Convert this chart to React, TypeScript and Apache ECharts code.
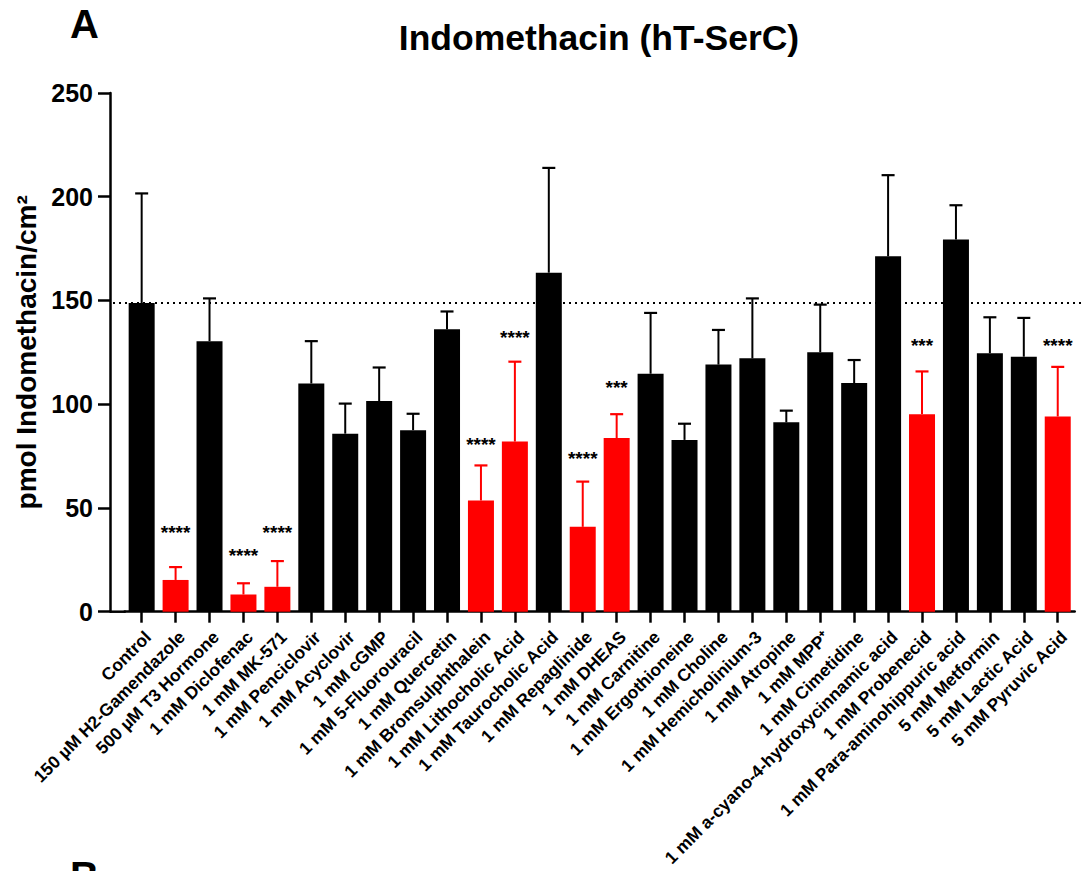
import React, { useEffect, useRef } from "react";
import * as echarts from "echarts";

const categories = [
  "Control",
  "150 µM H2-Gamendazole",
  "500 µM T3 Hormone",
  "1 mM Diclofenac",
  "1 mM MK-571",
  "1 mM Penciclovir",
  "1 mM Acyclovir",
  "1 mM cGMP",
  "1 mM 5-Fluorouracil",
  "1 mM Quercetin",
  "1 mM Bromsulphthalein",
  "1 mM Lithocholic Acid",
  "1 mM Taurocholic Acid",
  "1 mM Repaglinide",
  "1 mM DHEAS",
  "1 mM Carnitine",
  "1 mM Ergothioneine",
  "1 mM Choline",
  "1 mM Hemicholinium-3",
  "1 mM Atropine",
  "1 mM MPP⁺",
  "1 mM Cimetidine",
  "1 mM a-cyano-4-hydroxycinnamic acid",
  "1 mM Probenecid",
  "1 mM Para-aminohippuric acid",
  "5 mM Metformin",
  "5 mM Lactic Acid",
  "5 mM Pyruvic Acid",
];

const means = [
  148.8, 15.3, 130.4, 8.3, 12.0, 110.0, 85.8, 101.5, 87.5, 136.1, 53.6, 82.0,
  163.4, 40.9, 83.7, 114.7, 82.8, 119.1, 122.1, 91.3, 125.1, 110.2, 171.3, 95.2,
  179.4, 124.6, 122.9, 94.1,
];

const errorTops = [
  201.6, 21.5, 151.0, 13.7, 24.4, 130.4, 100.3, 117.7, 95.4, 144.7, 70.5, 120.5,
  213.9, 62.7, 95.2, 144.0, 90.6, 135.8, 151.0, 96.9, 148.0, 121.3, 210.4, 115.8,
  195.9, 141.9, 141.6, 118.0,
];

const significance = [
  "", "****", "", "****", "****", "", "", "", "", "", "****", "****", "", "****",
  "***", "", "", "", "", "", "", "", "", "***", "", "", "", "****",
];

const sigLevels: (number | null)[] = [
  null, 40, null, 29, 40, null, null, null, null, null, 82.5, 134, null, 76,
  110, null, null, null, null, null, null, null, null, 130, null, null, null, 130,
];

const yTicks = [0, 50, 100, 150, 200, 250];
const referenceValue = means[0];

const title = "Indomethacin (hT-SerC)";
const yName = "pmol Indomethacin/cm²";

const RED = "#ff0000";
const BLACK = "#000000";
const FONT = "'Liberation Sans', Arial, sans-serif";

export default function App() {
  const ref = useRef<HTMLDivElement>(null);

  useEffect(() => {
    if (!ref.current) return;
    const chart = echarts.init(ref.current, null, { renderer: "svg" });

    const gridTop = 93;
    const gridHeight = 518.7;
    const gridLeft = 124.7;
    const gridWidth = 950;
    const yAxisOffset = 14.7;

    const barData = means.map((v, i) => ({
      value: v,
      itemStyle: { color: significance[i] ? RED : BLACK },
    }));

    const errData = means.map((v, i) => [i, v, errorTops[i]]);
    const sigData: number[][] = [];
    sigLevels.forEach((lv, i) => {
      if (lv != null) sigData.push([i, lv]);
    });

    chart.setOption({
      animation: false,
      grid: {
        top: gridTop,
        height: gridHeight,
        left: gridLeft,
        width: gridWidth,
        containLabel: false,
        outerBoundsMode: "none",
      },
      xAxis: {
        type: "category",
        data: categories,
        boundaryGap: true,
        axisLine: { show: true, lineStyle: { color: BLACK, width: 2.5 } },
        axisTick: { show: true, alignWithLabel: true, length: 11, lineStyle: { color: BLACK, width: 2.5 } },
        axisLabel: {
          interval: 0,
          rotate: 45,
          margin: 16,
          verticalAlign: "top",
          color: BLACK,
          fontFamily: FONT,
          fontWeight: "bold",
          fontSize: 17.5,
          hideOverlap: false,
        },
        splitLine: { show: false },
      },
      yAxis: {
        type: "value",
        min: yTicks[0],
        max: yTicks[yTicks.length - 1],
        interval: yTicks[1] - yTicks[0],
        offset: yAxisOffset,
        name: yName,
        nameLocation: "middle",
        nameGap: 56,
        nameRotate: 90,
        nameTextStyle: { color: BLACK, fontFamily: FONT, fontWeight: "bold", fontSize: 28 },
        axisLine: { show: true, lineStyle: { color: BLACK, width: 2.5 } },
        axisTick: { show: true, length: 12, lineStyle: { color: BLACK, width: 2.5 } },
        axisLabel: { margin: 17, color: BLACK, fontFamily: FONT, fontWeight: "bold", fontSize: 25 },
        splitLine: { show: false },
      },
      series: [
        {
          type: "bar",
          data: barData,
          barWidth: 26,
          z: 2,
        },
        {
          type: "custom",
          data: errData,
          encode: { x: 0, y: [1, 2] },
          z: 3,
          renderItem: (params: any, api: any) => {
            const i = api.value(0);
            const p0 = api.coord([i, api.value(1)]);
            const p1 = api.coord([i, api.value(2)]);
            const color = significance[i] ? RED : BLACK;
            return {
              type: "group",
              children: [
                { type: "line", shape: { x1: p0[0], y1: p0[1], x2: p1[0], y2: p1[1] }, style: { stroke: color, lineWidth: 2 } },
                { type: "line", shape: { x1: p1[0] - 6.5, y1: p1[1], x2: p1[0] + 6.5, y2: p1[1] }, style: { stroke: color, lineWidth: 2.2 } },
              ],
            };
          },
        },
        {
          type: "custom",
          data: sigData,
          encode: { x: 0, y: 1 },
          z: 4,
          renderItem: (params: any, api: any) => {
            const i = api.value(0);
            const p = api.coord([i, api.value(1)]);
            return {
              type: "text",
              x: p[0],
              y: p[1] + 4,
              style: {
                text: significance[i],
                align: "center",
                verticalAlign: "middle",
                fill: BLACK,
                font: `bold 19px ${FONT}`,
              },
            };
          },
        },
      ],
    });

    const yRef = chart.convertToPixel({ yAxisIndex: 0 }, referenceValue) as number;
    const yZero = chart.convertToPixel({ yAxisIndex: 0 }, 0) as number;
    const axisX = gridLeft - yAxisOffset;

    chart.setOption({
      graphic: [
        {
          type: "line",
          shape: { x1: axisX + 3, y1: yRef, x2: 1081, y2: yRef },
          style: { stroke: BLACK, lineWidth: 2, lineDash: [2, 4] },
          z: 1,
        },
        {
          type: "line",
          shape: { x1: axisX, y1: yZero, x2: gridLeft + 1, y2: yZero },
          style: { stroke: BLACK, lineWidth: 2.5 },
          z: 5,
        },
        {
          type: "text",
          x: 599,
          y: 38,
          style: { text: title, align: "center", verticalAlign: "middle", fill: BLACK, font: `bold 35.5px ${FONT}` },
        },
        {
          type: "text",
          x: 70,
          y: 4,
          style: { text: "A", align: "left", verticalAlign: "top", fill: BLACK, font: `bold 40px ${FONT}` },
        },
        {
          type: "text",
          x: 70,
          y: 856,
          style: { text: "B", align: "left", verticalAlign: "top", fill: BLACK, font: `bold 40px ${FONT}` },
        },
      ],
    });

    return () => {
      chart.dispose();
    };
  }, []);

  return (
    <div
      ref={ref}
      style={{ position: "fixed", left: 0, top: 0, width: 1081, height: 871, background: "#fff" }}
    />
  );
}
